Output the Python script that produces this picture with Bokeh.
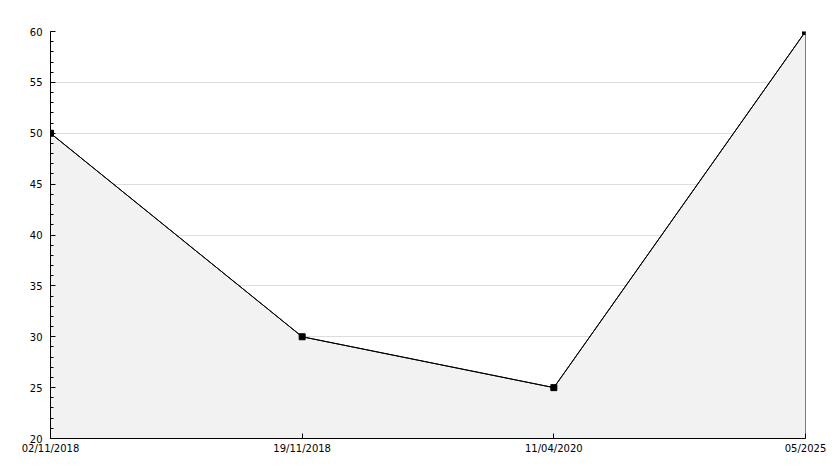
from bokeh.plotting import figure
from bokeh.models import FixedTicker, Range1d
from bokeh.embed import file_html
from bokeh.resources import INLINE

labels = ["02/11/2018", "19/11/2018", "11/04/2020", "05/2025"]
values = [50, 30, 25, 60]
xs = list(range(len(labels)))

p = figure(width=830, height=464, output_backend="svg", toolbar_location=None,
           x_range=Range1d(0, len(labels) - 1), y_range=Range1d(20, 60),
           min_border_left=50, min_border_right=25, min_border_top=31, min_border_bottom=26)
p.outline_line_color = None
p.background_fill_color = "white"

# area
px = [xs[0]] + xs + [xs[-1]]
py = [20] + values + [20]
p.patch(px, py, fill_color="#f2f2f2", line_color="black", line_width=1)
p.line(xs, values, line_color="black", line_width=1)
p.scatter(xs, values, size=6, marker="square", color="black")

p.xgrid.grid_line_color = None
p.ygrid.grid_line_color = "#dddddd"
p.ygrid.level = "underlay"

p.xaxis.ticker = FixedTicker(ticks=xs)
p.xaxis.major_label_overrides = {i: l for i, l in zip(xs, labels)}
p.yaxis.ticker = FixedTicker(ticks=[20, 25, 30, 35, 40, 45, 50, 55, 60],
                             minor_ticks=list(range(20, 61)))
for ax in (p.xaxis[0], p.yaxis[0]):
    ax.axis_line_color = "black"
    ax.major_tick_in = 5
    ax.major_tick_out = 0
    ax.minor_tick_in = 3
    ax.minor_tick_out = 0
    ax.major_label_text_font = "DejaVu Sans"
    ax.major_label_text_font_size = "10px"
    ax.major_label_text_color = "black"
    ax.major_tick_line_color = "black"
    ax.minor_tick_line_color = "black"
p.xaxis.minor_tick_line_color = None
p.xaxis.major_label_standoff = 4
p.yaxis.major_label_standoff = 8

open("out.html", "w").write(file_html(p, INLINE))
